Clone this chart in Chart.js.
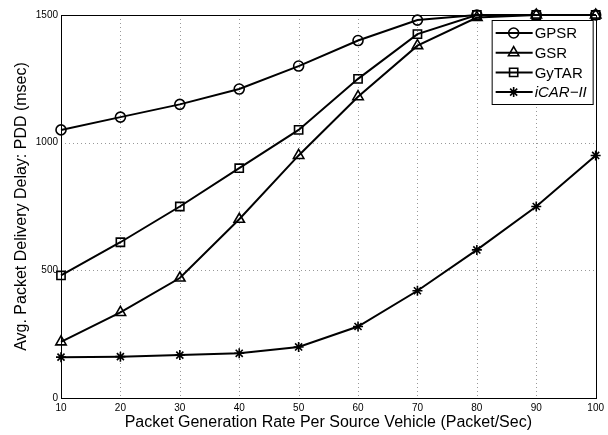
<!DOCTYPE html>
<html>
<head>
<meta charset="utf-8">
<script src="https://cdn.jsdelivr.net/npm/chart.js@4/dist/chart.umd.min.js"></script>
<style>
  html, body { margin: 0; padding: 0; background: #fff; }
  #wrap { width: 608px; height: 435px; }
</style>
</head>
<body>
<div id="wrap"><canvas id="myChart" width="608" height="435"></canvas></div>
<script>
// data
const rates = [10, 20, 30, 40, 50, 60, 70, 80, 90, 100];
const gpsr  = [1050, 1100, 1150, 1210, 1300, 1400, 1480, 1500, 1500, 1500];
const gsr   = [220, 335, 470, 700, 950, 1180, 1380, 1490, 1500, 1500];
const gytar = [480, 610, 750, 900, 1050, 1250, 1425, 1500, 1500, 1500];
const icar  = [160, 162, 168, 175, 200, 280, 420, 580, 750, 950];
const seriesNames = ['GPSR', 'GSR', 'GyTAR', 'iCAR\u2212II'];
const yTicks = [0, 500, 1000, 1500];

const FONT = '"Liberation Sans", Arial, Helvetica, sans-serif';

function pts(vals) {
  return vals.map((v, i) => ({x: rates[i], y: v}));
}

function mkSet(label, vals, style, radius) {
  return {
    label: label,
    data: pts(vals),
    borderColor: '#000',
    backgroundColor: 'rgba(0,0,0,0)',
    borderWidth: 2,
    pointStyle: style,
    pointRadius: radius,
    pointBorderWidth: 1.6,
    pointBorderColor: '#000',
    pointBackgroundColor: 'rgba(0,0,0,0)',
    tension: 0,
    clip: false
  };
}

// dotted grid + solid box around the plot
const framePlugin = {
  id: 'frame',
  beforeDatasetsDraw(chart) {
    const {ctx, chartArea: a, scales} = chart;
    ctx.save();
    ctx.strokeStyle = '#999';
    ctx.lineWidth = 1;
    ctx.setLineDash([1, 3]);
    scales.x.ticks.forEach(t => {
      const px = Math.round(scales.x.getPixelForValue(t.value)) + 0.5;
      ctx.beginPath();
      ctx.moveTo(px, a.top);
      ctx.lineTo(px, a.bottom);
      ctx.stroke();
    });
    scales.y.ticks.forEach(t => {
      const py = Math.round(scales.y.getPixelForValue(t.value)) + 0.5;
      ctx.beginPath();
      ctx.moveTo(a.left, py);
      ctx.lineTo(a.right, py);
      ctx.stroke();
    });
    ctx.setLineDash([]);
    ctx.strokeStyle = '#000';
    ctx.strokeRect(Math.round(a.left) + 0.5, Math.round(a.top) + 0.5,
      Math.round(a.right - a.left), Math.round(a.bottom - a.top));
    ctx.restore();
  }
};

// legend box inside the plot, top right
const legendPlugin = {
  id: 'boxLegend',
  afterDraw(chart) {
    const {ctx, chartArea: a} = chart;
    const sets = chart.data.datasets;
    const w = 101, rowH = 19.7;
    const h = 84;
    const x0 = a.right - w - 3, y0 = a.top + 5;
    ctx.save();
    ctx.fillStyle = '#fff';
    ctx.fillRect(x0, y0, w, h);
    ctx.strokeStyle = '#000';
    ctx.lineWidth = 1;
    ctx.strokeRect(x0 + 0.5, y0 + 0.5, w, h);
    sets.forEach((ds, i) => {
      const cy = y0 + 13 + i * rowH;
      ctx.strokeStyle = '#000';
      ctx.lineWidth = 2;
      ctx.beginPath();
      ctx.moveTo(x0 + 4, cy);
      ctx.lineTo(x0 + 41, cy);
      ctx.stroke();
      ctx.lineWidth = 1.6;
      ctx.fillStyle = 'rgba(0,0,0,0)';
      Chart.helpers.drawPoint(ctx, {
        pointStyle: ds.pointStyle,
        radius: ds.pointRadius,
        borderWidth: 1.6,
        rotation: 0
      }, x0 + 22, cy);
      ctx.fillStyle = '#000';
      ctx.textBaseline = 'middle';
      ctx.textAlign = 'left';
      ctx.font = (i === 3 ? 'italic ' : '') + '15px ' + FONT;
      ctx.fillText(ds.label, x0 + 43, cy + 1);
    });
    ctx.restore();
  }
};

new Chart(document.getElementById('myChart'), {
  type: 'line',
  data: {
    datasets: [
      mkSet(seriesNames[0], gpsr, 'circle', 5),
      mkSet(seriesNames[1], gsr, 'triangle', 6),
      mkSet(seriesNames[2], gytar, 'rect', 5.8),
      mkSet(seriesNames[3], icar, 'star', 5)
    ]
  },
  options: {
    responsive: false,
    animation: false,
    events: [],
    layout: {padding: {top: 15, right: 12, left: 0, bottom: 0}},
    plugins: {
      legend: {display: false},
      tooltip: {enabled: false}
    },
    scales: {
      x: {
        type: 'linear',
        min: 10,
        max: 100,
        afterFit(s) { s.height = 37; },
        afterBuildTicks(s) { s.ticks = rates.map(v => ({value: v})); },
        ticks: {
          padding: 4,
          color: '#000',
          font: {family: FONT, size: 10},
          maxRotation: 0,
          callback: v => String(v)
        },
        grid: {drawOnChartArea: false, drawTicks: false},
        border: {display: false},
        title: {
          display: true,
          text: 'Packet Generation Rate Per Source Vehicle (Packet/Sec)',
          color: '#000',
          font: {family: FONT, size: 16},
          padding: {top: 0, bottom: 3}
        }
      },
      y: {
        min: 0,
        max: 1500,
        afterFit(s) { s.width = 61; },
        afterBuildTicks(s) { s.ticks = yTicks.map(v => ({value: v})); },
        ticks: {
          padding: 3,
          color: '#000',
          font: {family: FONT, size: 10},
          callback: v => String(v)
        },
        grid: {drawOnChartArea: false, drawTicks: false},
        border: {display: false},
        title: {
          display: true,
          text: 'Avg. Packet Delivery Delay: PDD (msec)',
          color: '#000',
          font: {family: FONT, size: 16},
          padding: {top: 12, bottom: 0}
        }
      }
    }
  },
  plugins: [framePlugin, legendPlugin]
});
</script>
</body>
</html>
